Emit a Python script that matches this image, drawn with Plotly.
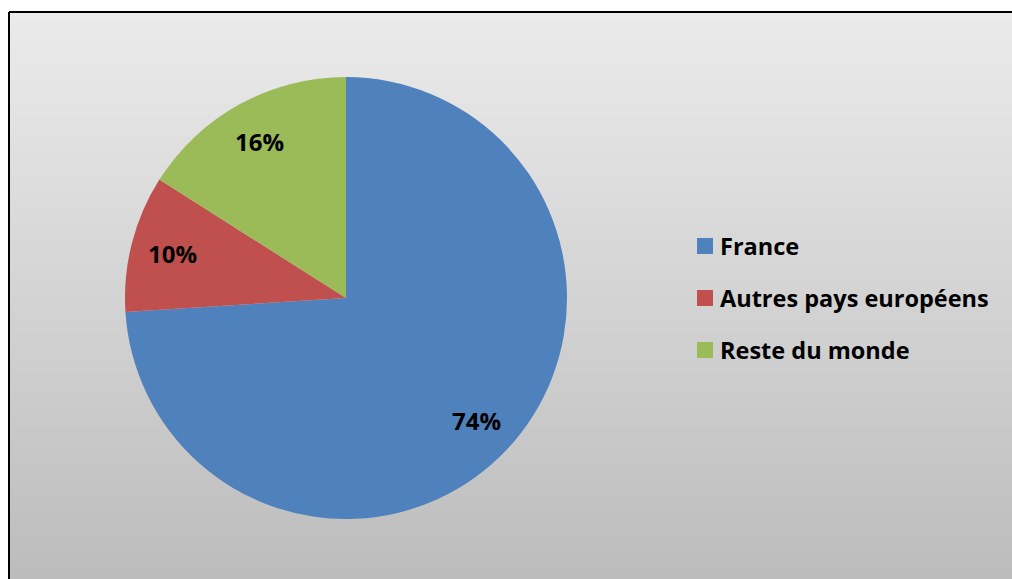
import math
import plotly.graph_objects as go

categories = ["France", "Autres pays européens", "Reste du monde"]
values = [74, 10, 16]
colors = ["#4F81BD", "#C0504D", "#9BBB59"]

W, H = 1012, 579
FONT = "Open Sans"

# pie geometry (pixels)
CX, CY, R = 346, 298, 221

fig = go.Figure()

fig.add_trace(go.Pie(
    labels=categories,
    values=values,
    sort=False,
    direction="clockwise",
    rotation=0,
    marker=dict(colors=colors, line=dict(width=0)),
    textinfo="none",
    domain=dict(x=[(CX - R) / W, (CX + R) / W], y=[1 - (CY + R) / H, 1 - (CY - R) / H]),
    showlegend=False,
    hoverinfo="label+percent",
))

shapes = []
# vertical gradient background built from overlapping bands
n = 100
top, bot = 12, 580
c0, c1 = 235, 188
for i in range(n):
    y0 = top + (bot - top) * i / n
    y1 = top + (bot - top) * (i + 1) / n + 1.5
    c = round(c0 + (c1 - c0) * (i + 0.5) / n)
    shapes.append(dict(type="rect", xref="paper", yref="paper",
                       x0=9 / W, x1=1.0, y0=max(0.0, 1 - y1 / H), y1=1 - y0 / H,
                       fillcolor=f"rgb({c},{c},{c})", line=dict(width=0), layer="below"))

# chart-area border: only top and left edges are inside the window
shapes.append(dict(type="line", xref="paper", yref="paper",
                   x0=9 / W, x1=1.0, y0=1 - 12 / H, y1=1 - 12 / H,
                   line=dict(color="black", width=2), layer="above"))
shapes.append(dict(type="line", xref="paper", yref="paper",
                   x0=9 / W, x1=9 / W, y0=0.0, y1=1 - 12 / H,
                   line=dict(color="black", width=2), layer="above"))

annotations = []
# percentage labels
total = sum(values)
cum = 0
for v in values:
    mid = (cum + v / 2) / total * 2 * math.pi
    cum += v
    r = 0.81 * R
    x = CX + r * math.sin(mid)
    y = CY - r * math.cos(mid)
    annotations.append(dict(x=x / W, y=1 - y / H, xref="paper", yref="paper",
                            text=f"<b>{round(v / total * 100)}%</b>", showarrow=False,
                            xanchor="center", yanchor="middle",
                            font=dict(family=FONT, size=24, color="black")))

leg_y = [246, 298, 350]
for cat, col, yy in zip(categories, colors, leg_y):
    shapes.append(dict(type="rect", xref="paper", yref="paper",
                       x0=697 / W, x1=713 / W, y0=1 - (yy + 8) / H, y1=1 - (yy - 8) / H,
                       fillcolor=col, line=dict(width=0)))
    annotations.append(dict(x=718 / W, y=1 - yy / H, xref="paper", yref="paper",
                            text=f"<b>{cat}</b>", showarrow=False, xanchor="left", yanchor="middle",
                            font=dict(family=FONT, size=23.5, color="black")))

fig.update_layout(
    width=W, height=H,
    margin=dict(l=0, r=0, t=0, b=0),
    paper_bgcolor="white",
    plot_bgcolor="white",
    shapes=shapes,
    annotations=annotations,
    xaxis=dict(visible=False),
    yaxis=dict(visible=False),
)

fig.write_html("out.html", config={"displayModeBar": False},
               post_script="document.body.style.margin='0';document.body.style.overflow='hidden';")
